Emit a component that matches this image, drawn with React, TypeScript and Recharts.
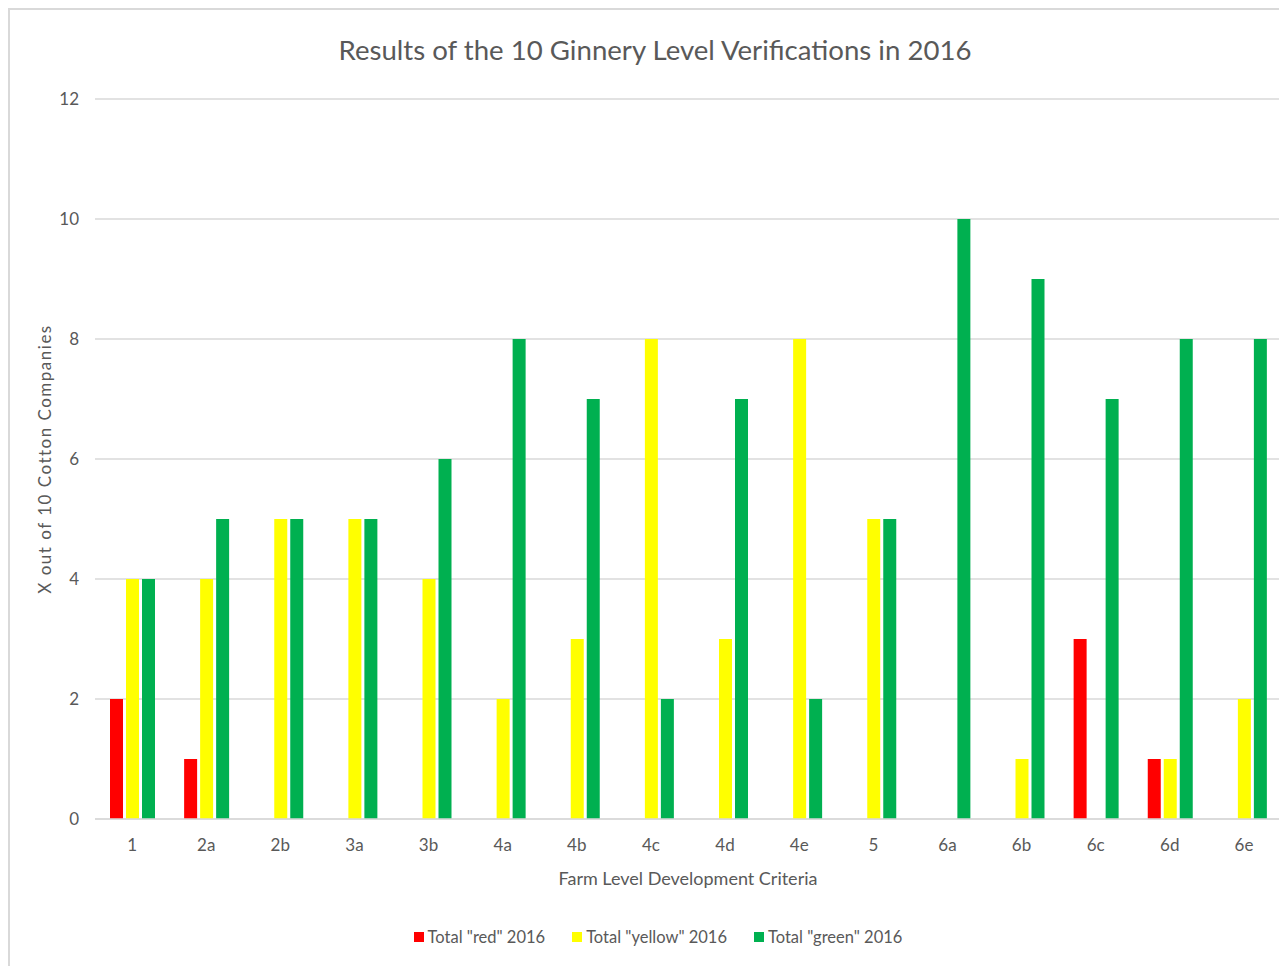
import React from "react";
import {
  BarChart,
  Bar,
  XAxis,
  YAxis,
  CartesianGrid,
  Legend,
} from "recharts";

const CRITERIA = ["1", "2a", "2b", "3a", "3b", "4a", "4b", "4c", "4d", "4e", "5", "6a", "6b", "6c", "6d", "6e"];
const RED = [2, 1, 0, 0, 0, 0, 0, 0, 0, 0, 0, 0, 0, 3, 1, 0];
const YELLOW = [4, 4, 5, 5, 4, 2, 3, 8, 3, 8, 5, 0, 1, 0, 1, 2];
const GREEN = [4, 5, 5, 5, 6, 8, 7, 2, 7, 2, 5, 10, 9, 7, 8, 8];
const Y_TICKS = [0, 2, 4, 6, 8, 10, 12];

const SERIES = [
  { key: "red", name: 'Total "red" 2016', color: "#FF0000" },
  { key: "yellow", name: 'Total "yellow" 2016', color: "#FFFF00" },
  { key: "green", name: 'Total "green" 2016', color: "#00B050" },
];

const FONT = "Lato, 'Open Sans', sans-serif";
const TEXT = "#595959";
const GRID = "#d9d9d9";

// legend drawn by hand so spacing matches the excel look
const renderLegend = () => (
  <div
    style={{
      height: 30,
      display: "flex",
      justifyContent: "center",
      alignItems: "center",
      gap: 27,
      fontFamily: FONT,
      fontSize: 16.5,
      color: TEXT,
      paddingLeft: 25,
    }}
  >
    {SERIES.map((s) => (
      <div key={s.key} style={{ display: "flex", alignItems: "center" }}>
        <span style={{ width: 10, height: 10, background: s.color, marginRight: 4 }} />
        <span>{s.name}</span>
      </div>
    ))}
  </div>
);

export default function App() {
  const data = CRITERIA.map((c, i) => ({
    name: c,
    red: RED[i],
    yellow: YELLOW[i],
    green: GREEN[i],
  }));

  return (
    <div
      style={{
        position: "relative",
        width: 1277,
        height: 956,
        borderTop: `2px solid ${GRID}`,
        borderLeft: `2px solid ${GRID}`,
        fontFamily: FONT,
      }}
    >
      <div
        style={{
          position: "absolute",
          left: 0,
          top: 23,
          width: 1290,
          textAlign: "center",
          fontSize: 27.6,
          color: TEXT,
        }}
      >
        Results of the 10 Ginnery Level Verifications in 2016
      </div>
      <BarChart
        width={1277}
        height={956}
        data={data}
        margin={{ top: 89, right: 6, left: 0, bottom: 14 }}
        barSize={13}
        barGap={3}
      >
        <CartesianGrid vertical={false} stroke={GRID} strokeWidth={1.5} />
        <XAxis
          dataKey="name"
          height={103}
          tickLine={false}
          tickSize={0}
          tickMargin={20}
          axisLine={{ stroke: GRID, strokeWidth: 1.5 }}
          tick={{ fill: TEXT, fontSize: 17, fontFamily: FONT }}
          interval={0}
          label={{
            value: "Farm Level Development Criteria",
            position: "insideBottom",
            offset: 37,
            fill: TEXT,
            fontSize: 18,
            fontFamily: FONT,
          }}
        />
        <YAxis
          width={85}
          domain={[0, 12]}
          ticks={Y_TICKS}
          tickLine={false}
          tickSize={0}
          tickMargin={16}
          axisLine={false}
          tick={{ fill: TEXT, fontSize: 17, fontFamily: FONT }}
          label={{
            value: "X out of 10 Cotton Companies",
            angle: -90,
            position: "insideLeft",
            offset: 35,
            fill: TEXT,
            fontSize: 17,
            fontFamily: FONT,
            letterSpacing: 1.5,
            style: { textAnchor: "middle" },
          }}
        />
        <Legend verticalAlign="bottom" content={renderLegend} />
        {SERIES.map((s) => (
          <Bar
            key={s.key}
            dataKey={s.key}
            name={s.name}
            fill={s.color}
            isAnimationActive={false}
          />
        ))}
      </BarChart>
    </div>
  );
}
